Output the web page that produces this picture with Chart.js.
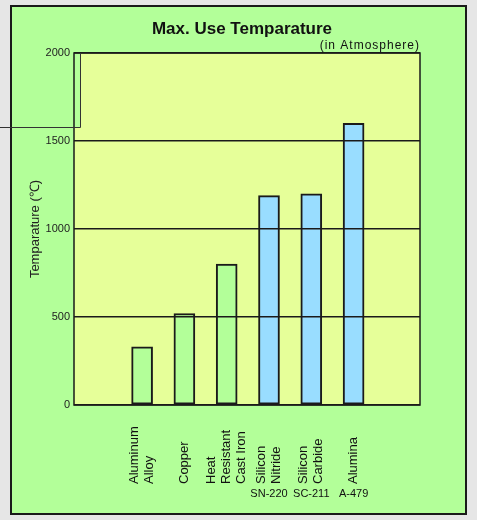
<!DOCTYPE html>
<html>
<head>
<meta charset="utf-8">
<script src="https://cdn.jsdelivr.net/npm/chart.js@4.4.1/dist/chart.umd.min.js"></script>
<style>
    html, body { margin: 0; padding: 0; background: #e6e6e6; }
    canvas { display: block; }
</style>
</head>
<body>
<canvas id="temp-chart" width="477" height="520"></canvas>
<script>
// data
const categories = [['Aluminum', 'Alloy'], ['Copper'], ['Heat', 'Resistant', 'Cast Iron'], ['Silicon', 'Nitride'], ['Silicon', 'Carbide'], ['Alumina']];
const grades = ['', '', '', 'SN-220', 'SC-211', 'A-479'];
const kinds = ['metal', 'metal', 'metal', 'ceramic', 'ceramic', 'ceramic'];
const temps = [330, 520, 800, 1190, 1200, 1600];
const yTicks = [0, 500, 1000, 1500, 2000];

const PANEL = '#b3ff99';
const PLOT = '#e6ff99';
const BLUE = '#99ddff';
const INK = '#1a1a1a';
const FONT = '"Liberation Sans", Arial, sans-serif';

Chart.defaults.font.family = FONT;

const framePlugin = {
    id: 'frame',
    beforeDraw(chart) {
        const ctx = chart.ctx;
        const area = chart.chartArea;
        const y = chart.scales.y;
        ctx.save();
        ctx.fillStyle = '#e6e6e6';
        ctx.fillRect(0, 0, chart.width, chart.height);
        ctx.fillStyle = PANEL;
        ctx.fillRect(11, 6, 455, 508);
        ctx.strokeStyle = INK;
        ctx.lineWidth = 2;
        ctx.strokeRect(11, 6, 455, 508);
        ctx.fillStyle = PLOT;
        ctx.fillRect(area.left, area.top, area.right - area.left, area.bottom - area.top);
        // the odd notch in the top left corner of the plot
        ctx.fillStyle = PANEL;
        ctx.fillRect(area.left, area.top, 6, y.getPixelForValue(1580) - area.top);
        ctx.restore();
    },
    afterDatasetsDraw(chart) {
        const ctx = chart.ctx;
        const area = chart.chartArea;
        ctx.save();
        ctx.strokeStyle = INK;
        ctx.lineWidth = 1.5;
        ctx.strokeRect(area.left, area.top, area.right - area.left, area.bottom - area.top);
        ctx.restore();
    },
    afterDraw(chart) {
        const ctx = chart.ctx;
        const area = chart.chartArea;
        const x = chart.scales.x;
        const y = chart.scales.y;
        ctx.save();

        // notch lines
        const yn = Math.round(y.getPixelForValue(1580)) + 0.5;
        ctx.strokeStyle = '#333';
        ctx.lineWidth = 1;
        ctx.beginPath();
        ctx.moveTo(0, yn);
        ctx.lineTo(area.left + 6.5, yn);
        ctx.lineTo(area.left + 6.5, area.top);
        ctx.stroke();

        // title
        ctx.fillStyle = '#111';
        ctx.textAlign = 'center';
        ctx.textBaseline = 'alphabetic';
        ctx.font = 'bold 17px ' + FONT;
        ctx.fillText('Max. Use Temparature', 242, 34);
        ctx.textAlign = 'right';
        ctx.font = '12px ' + FONT;
        ctx.letterSpacing = '1px';
        ctx.fillText('(in Atmosphere)', area.right, 49);
        ctx.letterSpacing = '0px';

        // category labels, rotated
        ctx.font = '13px ' + FONT;
        categories.forEach((lines, i) => {
            const cx = x.getPixelForValue(i + 1);
            lines.forEach((line, j) => {
                const lx = cx + (j - (lines.length - 1) / 2) * 15;
                ctx.save();
                ctx.translate(lx, 484);
                ctx.rotate(-Math.PI / 2);
                ctx.textAlign = 'left';
                ctx.textBaseline = 'middle';
                ctx.fillText(line, 0, 0);
                ctx.restore();
            });
            if (grades[i]) {
                ctx.font = '11px ' + FONT;
                ctx.textAlign = 'center';
                ctx.textBaseline = 'middle';
                ctx.fillText(grades[i], cx, 494);
                ctx.font = '13px ' + FONT;
            }
        });
        ctx.restore();
    }
};

const chart = new Chart(document.getElementById('temp-chart').getContext('2d'), {
    type: 'bar',
    data: {
        datasets: [{
            data: temps.map((t, i) => ({ x: i + 1, y: t })),
            backgroundColor: kinds.map(k => k === 'metal' ? PANEL : BLUE),
            borderColor: INK,
            borderWidth: 2,
            borderSkipped: false,
            barThickness: 21
        }]
    },
    options: {
        responsive: false,
        devicePixelRatio: 1,
        animation: false,
        layout: {
            padding: { left: 0, right: 57, top: 53, bottom: 0 }
        },
        plugins: {
            legend: { display: false },
            tooltip: { enabled: false }
        },
        scales: {
            x: {
                type: 'linear',
                offset: false,
                min: -0.61,
                max: 7.57,
                ticks: { display: false },
                grid: { display: false, offset: false },
                border: { display: false },
                afterFit: scale => { scale.height = 115; }
            },
            y: {
                min: 0,
                max: 2000,
                afterBuildTicks: scale => { scale.ticks = yTicks.map(v => ({ value: v })); },
                ticks: {
                    color: '#222',
                    padding: 4,
                    font: { size: 11 },
                    callback: v => String(v)
                },
                grid: {
                    color: INK,
                    lineWidth: 1.5,
                    drawTicks: false,
                    z: 1
                },
                border: { display: false },
                title: {
                    display: true,
                    text: 'Temparature (℃)',
                    color: '#222',
                    font: { size: 13 },
                    padding: { top: 28, bottom: 0 }
                },
                afterFit: scale => { scale.width = 74; }
            }
        }
    },
    plugins: [framePlugin]
});
</script>
</body>
</html>
